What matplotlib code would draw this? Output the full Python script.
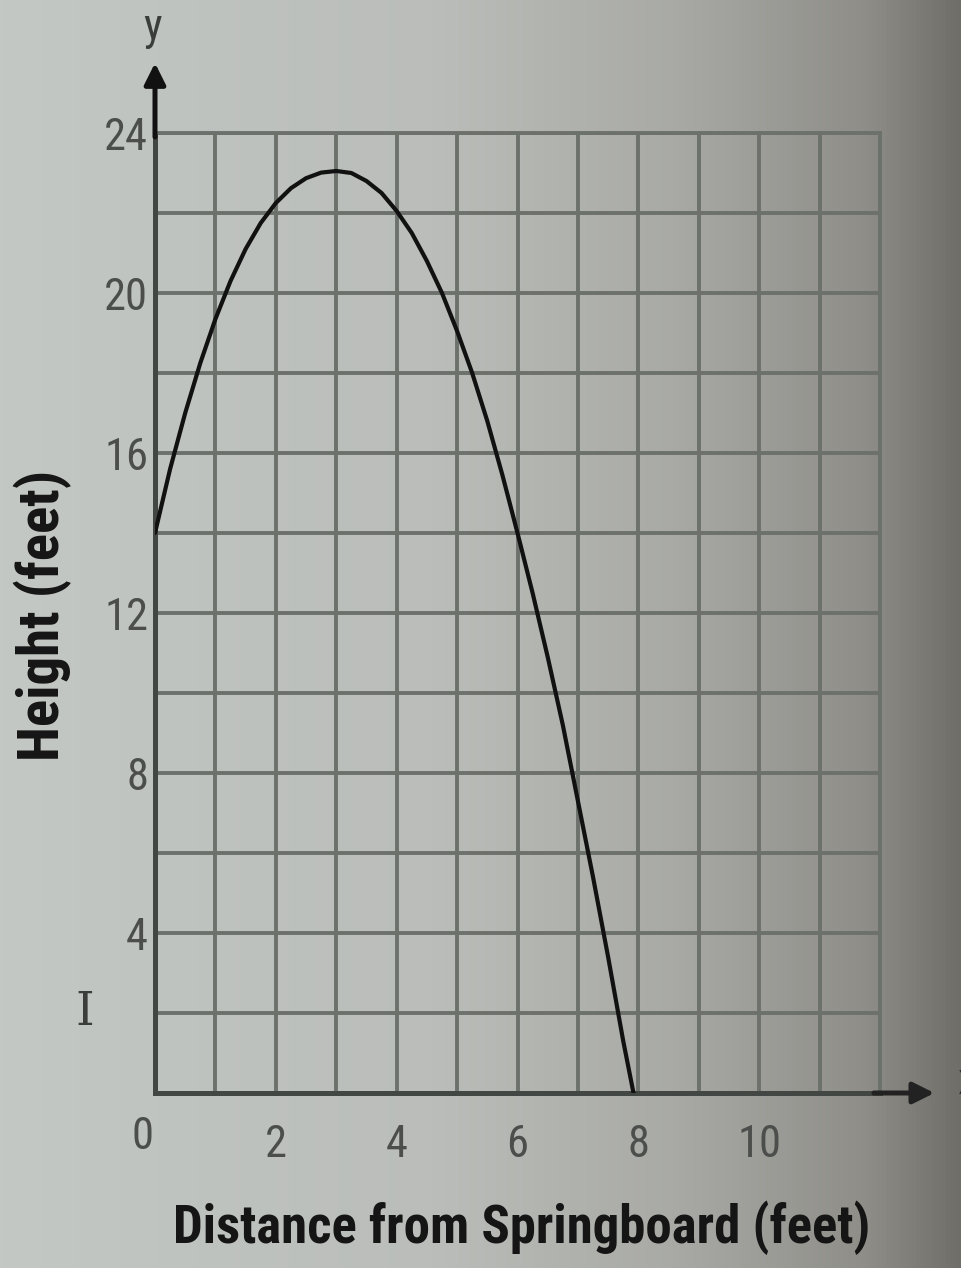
import matplotlib
matplotlib.use("Agg")
import matplotlib.pyplot as plt
import numpy as np
from matplotlib import font_manager
from matplotlib.colors import LinearSegmentedColormap

# values
distance = [0, 0.25, 0.5, 0.75, 1, 1.25, 1.5, 1.75, 2, 2.25, 2.5, 2.75, 3,
            3.25, 3.5, 3.75, 4, 4.25, 4.5, 4.75, 5, 5.25, 5.5, 5.75, 6,
            6.25, 6.5, 6.75, 7, 7.25, 7.5, 7.75, 7.92]
height = [14, 15.6, 17.0, 18.25, 19.35, 20.3, 21.1, 21.75, 22.25, 22.62, 22.87, 23.01, 23.05,
          23.0, 22.8, 22.5, 22.05, 21.5, 20.8, 20.0, 19.05, 18.0, 16.8, 15.45, 14.0,
          12.5, 10.9, 9.2, 7.3, 5.4, 3.4, 1.3, 0]
x_ticks = [2, 4, 6, 8, 10]
y_ticks = [4, 8, 12, 16, 20, 24]

installed = {f.name for f in font_manager.fontManager.ttflist}
narrow = next((n for n in ["Roboto Condensed", "Liberation Sans Narrow", "DejaVu Sans Condensed"]
               if n in installed), "Liberation Sans")

plt.rcParams.update({"font.family": [narrow, "DejaVu Sans"]})

fig = plt.figure(figsize=(9.61, 12.68), dpi=100)

# paper background, darker toward the right edge
bg = fig.add_axes([0, 0, 1, 1], zorder=-10)
paper = LinearSegmentedColormap.from_list(
    "paper", [(0, "#c3c8c4"), (0.45, "#babdb9"), (0.7, "#a9aaa6"),
              (0.9, "#8f8e89"), (1.0, "#706e69")])
bg.imshow(np.linspace(0, 1, 256)[None, :], aspect="auto", cmap=paper,
          extent=[0, 1, 0, 1])
bg.axis("off")

ax = fig.add_axes([155 / 961, 1 - 1093 / 1268, 725 / 961, 960 / 1268])
ax.patch.set_alpha(0)
ax.set_xlim(0, 12)
ax.set_ylim(0, 24)
ax.set_xticks(range(0, 13), minor=True)
ax.set_yticks(range(0, 25, 2), minor=True)
ax.set_xticks(x_ticks)
ax.set_yticks(y_ticks)
ax.grid(True, which="both", color="#6c716c", linewidth=2.8)
ax.tick_params(which="both", length=0)
ax.tick_params(axis="x", pad=22, labelsize=32, labelcolor="#4b4e4b")
ax.tick_params(axis="y", pad=5, labelsize=32, labelcolor="#4b4e4b")
for side in ["top", "right"]:
    ax.spines[side].set_color("#6c716c")
    ax.spines[side].set_linewidth(2.8)
for side in ["left", "bottom"]:
    ax.spines[side].set_color("#434743")
    ax.spines[side].set_linewidth(3.6)
ax.set_axisbelow(True)

ax.plot(distance, height, color="#111111", linewidth=3, solid_capstyle="round",
        solid_joinstyle="round", zorder=5)

# axis arrows
ax.annotate("", xy=(0, 25.75), xytext=(0, 23.9), xycoords="data",
            arrowprops=dict(arrowstyle="-|>", color="#111111", lw=3.6,
                            mutation_scale=32, shrinkA=0, shrinkB=0),
            annotation_clip=False)
ax.annotate("", xy=(12.9, 0), xytext=(11.9, 0), xycoords="data",
            arrowprops=dict(arrowstyle="-|>", color="#222222", lw=3.6,
                            mutation_scale=32, shrinkA=0, shrinkB=0),
            annotation_clip=False)

fig.text(143 / 961, 1 - 1137 / 1268, "0", fontsize=32, color="#4b4e4b",
         ha="center", va="center")
fig.text(152 / 961, 1 - 28 / 1268, "y", fontsize=32, color="#3a3d3a",
         ha="center", va="center")
fig.text(958 / 961, 1 - 1082 / 1268, "x", fontsize=32, color="#2a2a2a",
         ha="left", va="center")
fig.text(85 / 961, 1 - 1012 / 1268, "I", fontsize=34, color="#3a3d3a",
         family="DejaVu Serif", ha="center", va="center")
fig.text(0.02, 1 + 6 / 1268, "equation that represents the p", fontsize=30,
         color="#3a3d3a", ha="left", va="bottom")

fig.text(43 / 961, 1 - 615 / 1268, "Height (feet)", fontsize=41, fontweight="bold",
         color="#151515", rotation=90, ha="center", va="center")
fig.text(522 / 961, 1 - 1228 / 1268, "Distance from Springboard (feet)", fontsize=38,
         fontweight="bold", color="#151515", ha="center", va="center")

fig.savefig("out.png", dpi=100)
